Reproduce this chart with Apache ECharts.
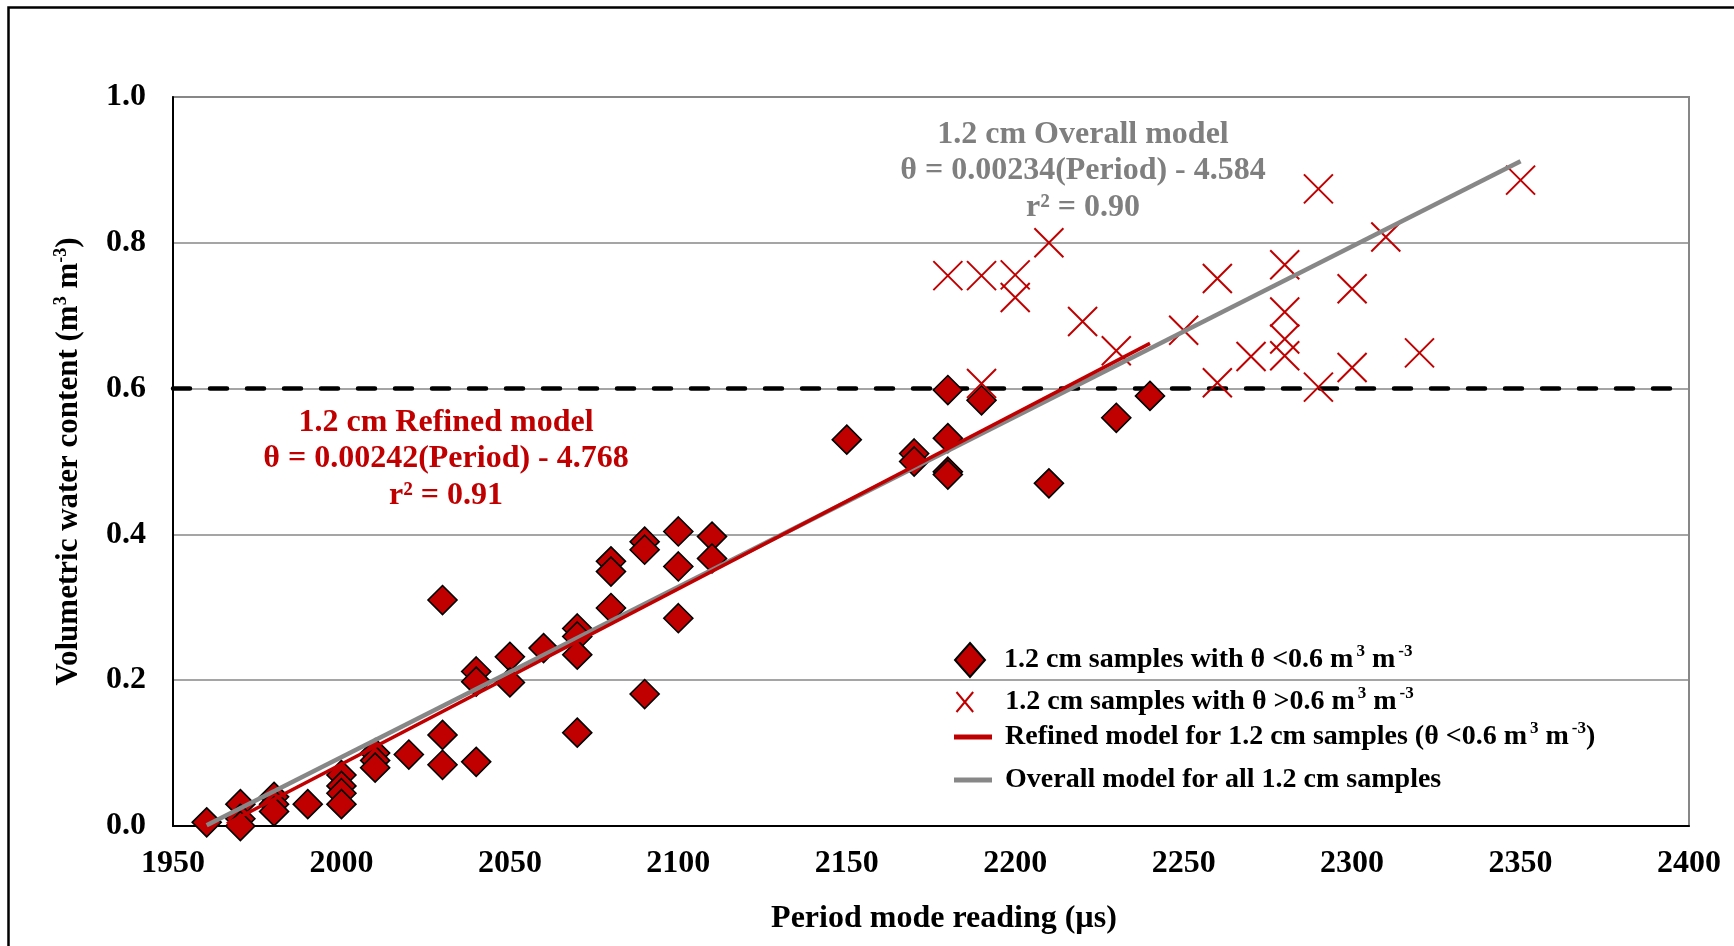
<!DOCTYPE html>
<html>
<head>
<meta charset="utf-8">
<title>Volumetric water content vs period mode reading</title>
<script src="https://cdn.jsdelivr.net/npm/echarts@6/dist/echarts.min.js"></script>
<style>
  html, body { margin: 0; padding: 0; background: #ffffff; }
  #chart { width: 1734px; height: 946px; }
</style>
</head>
<body>
<div id="chart"></div>
<script>
// Samples with theta < 0.6 (diamonds)
const lowPeriod = [1960, 1970, 1970, 1970, 1980, 1980, 1980, 1990, 2000, 2000, 2000, 2000,
  2010, 2010, 2010, 2020, 2030, 2030, 2030, 2040, 2040, 2040, 2050, 2050, 2060,
  2070, 2070, 2070, 2070, 2080, 2080, 2080, 2090, 2090, 2090, 2100, 2100, 2100,
  2110, 2110, 2150, 2170, 2170, 2180, 2180, 2180, 2180, 2190, 2210, 2230, 2240];
const lowTheta = [0.005, 0.030, 0.010, 0.000, 0.040, 0.030, 0.020, 0.030, 0.070, 0.055, 0.045, 0.030,
  0.100, 0.090, 0.080, 0.098, 0.310, 0.125, 0.084, 0.212, 0.198, 0.088, 0.232, 0.197, 0.244,
  0.271, 0.260, 0.235, 0.128, 0.363, 0.349, 0.299, 0.390, 0.379, 0.181, 0.404, 0.356, 0.285,
  0.397, 0.367, 0.530, 0.511, 0.500, 0.598, 0.532, 0.486, 0.482, 0.584, 0.470, 0.560, 0.590];

// Samples with theta > 0.6 (crosses)
const highPeriod = [2180, 2190, 2190, 2200, 2200, 2210, 2220, 2230, 2250, 2260, 2260, 2270,
  2280, 2280, 2280, 2280, 2290, 2290, 2300, 2300, 2310, 2320, 2350];
const highTheta = [0.755, 0.755, 0.607, 0.756, 0.725, 0.800, 0.692, 0.652, 0.680, 0.751, 0.608, 0.644,
  0.770, 0.705, 0.668, 0.645, 0.874, 0.602, 0.737, 0.629, 0.808, 0.649, 0.886];

// Fitted model lines (end points)
const refinedPeriod = [1966, 2240];
const refinedTheta = [0.003, 0.662];
const overallPeriod = [1960, 2350];
const overallTheta = [0.001, 0.912];

// Threshold line
const thresholdPeriod = [1950, 2400];
const thresholdTheta = [0.6, 0.6];

// Axis ticks
const xTicks = [1950, 2000, 2050, 2100, 2150, 2200, 2250, 2300, 2350, 2400];
const yTicks = [0.0, 0.2, 0.4, 0.6, 0.8, 1.0];

const NAME_LOW = 'low';
const NAME_HIGH = 'high';
const NAME_REFINED = 'refined';
const NAME_OVERALL = 'overall';

const legendText = {
  [NAME_LOW]: '1.2 cm samples with \u03b8 <0.6 m{sup|3} m{sup|-3}',
  [NAME_HIGH]: '1.2 cm samples with \u03b8 >0.6 m{sup|3} m{sup|-3}',
  [NAME_REFINED]: 'Refined model for 1.2 cm samples (\u03b8 <0.6 m{sup|3} m{sup|-3})',
  [NAME_OVERALL]: 'Overall model for all 1.2 cm samples'
};

const FONT = '"Liberation Serif", "Times New Roman", serif';
const RED = '#c00000';
const GREY = '#878787';

function zip(xs, ys) { return xs.map((x, i) => [x, ys[i]]); }

const supStyle = { fontFamily: FONT, fontWeight: 'bold', fontSize: 17, color: '#000', verticalAlign: 'top', lineHeight: 12, padding: [0, 0, 0, 3] };

function legendBlock(name, icon, w, h, left, centerY, padLeft) {
  return {
    data: [{ name: name, icon: icon }],
    left: left,
    top: centerY - 17,
    itemWidth: w,
    itemHeight: h,
    selectedMode: false,
    formatter: n => legendText[n],
    textStyle: {
      fontFamily: FONT, fontWeight: 'bold', fontSize: 28, color: '#000',
      lineHeight: 34, padding: [0, 0, 0, padLeft],
      rich: { sup: supStyle }
    }
  };
}

const chart = echarts.init(document.getElementById('chart'), null, { renderer: 'canvas' });

chart.setOption({
  backgroundColor: '#ffffff',
  animation: false,
  grid: {
    left: 173, right: 45, top: 97, bottom: 120,
    show: true, borderColor: GREY, borderWidth: 2, backgroundColor: 'transparent'
  },
  xAxis: {
    type: 'value', min: xTicks[0], max: xTicks[xTicks.length - 1], interval: 50,
    name: 'Period mode reading (\u00b5s)', nameLocation: 'middle', nameGap: 77,
    nameTextStyle: { fontFamily: FONT, fontWeight: 'bold', fontSize: 32, color: '#000', padding: [0, 0, 0, 26] },
    axisLine: { show: true, lineStyle: { color: '#000', width: 2 } },
    axisTick: { show: false },
    splitLine: { show: false },
    axisLabel: { fontFamily: FONT, fontWeight: 'bold', fontSize: 32, color: '#000', margin: 22,
      formatter: v => String(v) }
  },
  yAxis: {
    type: 'value', min: yTicks[0], max: yTicks[yTicks.length - 1], interval: 0.2,
    name: 'Volumetric water content (m{sup|3} m{sup|-3})', nameLocation: 'middle', nameGap: 87, nameRotate: 90,
    nameTextStyle: {
      fontFamily: FONT, fontWeight: 'bold', fontSize: 31, color: '#000', lineHeight: 34,
      rich: { sup: { fontFamily: FONT, fontWeight: 'bold', fontSize: 18, color: '#000', verticalAlign: 'top', lineHeight: 13 } }
    },
    axisLine: { show: true, lineStyle: { color: '#000', width: 2 } },
    axisTick: { show: false },
    splitLine: { show: true, lineStyle: { color: GREY, width: 1.5 } },
    axisLabel: { fontFamily: FONT, fontWeight: 'bold', fontSize: 32, color: '#000', margin: 27,
      formatter: v => v.toFixed(1) }
  },
  legend: [
    legendBlock(NAME_LOW, 'diamond', 30, 34, 949, 654, 14),
    legendBlock(NAME_HIGH, 'path://M0,0L10,12M10,0L0,12', 17, 20, 949, 697, 27),
    legendBlock(NAME_REFINED, 'rect', 38, 5, 949, 732, 8),
    legendBlock(NAME_OVERALL, 'rect', 38, 5, 949, 775, 8)
  ],
  graphic: [
    {
      type: 'rect', silent: true, z: 100,
      shape: { x: 8.5, y: 7.5, width: 1800, height: 1000 },
      style: { fill: 'none', stroke: '#000', lineWidth: 2.5 }
    },
    {
      type: 'text', x: 1083, y: 171, z: 50,
      style: {
        text: '1.2 cm Overall model\n\u03b8 = 0.00234(Period) - 4.584\nr\u00b2 = 0.90',
        align: 'center', verticalAlign: 'middle', lineHeight: 36.5,
        fontFamily: FONT, fontWeight: 'bold', fontSize: 32, fill: '#7f7f7f'
      }
    },
    {
      type: 'text', x: 446, y: 459, z: 50,
      style: {
        text: '1.2 cm Refined model\n\u03b8 = 0.00242(Period) - 4.768\nr\u00b2 = 0.91',
        align: 'center', verticalAlign: 'middle', lineHeight: 36.5,
        fontFamily: FONT, fontWeight: 'bold', fontSize: 32, fill: RED
      }
    }
  ],
  series: [
    {
      type: 'line', name: 'threshold', data: zip(thresholdPeriod, thresholdTheta),
      symbol: 'none', silent: true, z: 2,
      lineStyle: { color: '#000', width: 4.5, type: [17, 20], cap: 'round' }
    },
    {
      type: 'scatter', name: NAME_LOW, data: zip(lowPeriod, lowTheta), z: 3,
      symbol: 'diamond', symbolSize: [29, 29],
      itemStyle: { color: RED, borderColor: '#000', borderWidth: 1.6, opacity: 1 }
    },
    {
      type: 'scatter', name: NAME_HIGH, data: zip(highPeriod, highTheta), z: 3,
      symbol: 'path://M0,0L10,10M10,0L0,10', symbolSize: [29, 29],
      itemStyle: { color: 'none', borderColor: RED, borderWidth: 2, opacity: 1 }
    },
    {
      type: 'line', name: NAME_OVERALL, data: zip(overallPeriod, overallTheta), z: 4,
      symbol: 'none', color: GREY,
      itemStyle: { color: GREY },
      lineStyle: { color: GREY, width: 4.5 }
    },
    {
      type: 'line', name: NAME_REFINED, data: zip(refinedPeriod, refinedTheta), z: 5,
      symbol: 'none', color: RED,
      itemStyle: { color: RED },
      lineStyle: { color: RED, width: 3.5 }
    }
  ]
});
</script>
</body>
</html>
